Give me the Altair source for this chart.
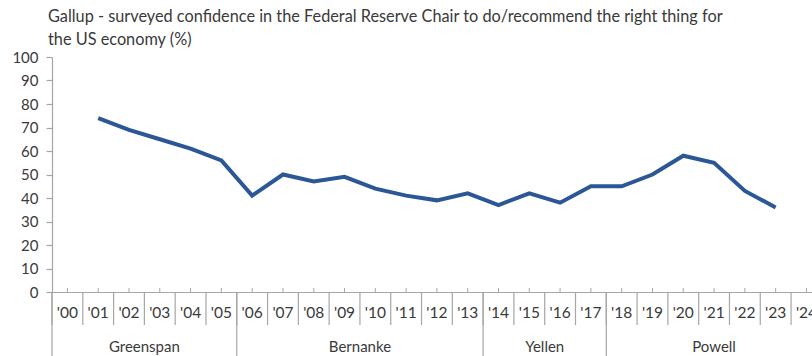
import altair as alt
import pandas as pd

year_labels = ["'00", "'01", "'02", "'03", "'04", "'05", "'06", "'07", "'08", "'09",
               "'10", "'11", "'12", "'13", "'14", "'15", "'16", "'17", "'18", "'19",
               "'20", "'21", "'22", "'23", "'24"]
confidence = [None, 74, 69, 65, 61, 56, 41, 50, 47, 49, 44, 41, 39, 42, 37, 42, 38,
              45, 45, 50, 58, 55, 43, 36, None]
chairs = ["Greenspan", "Bernanke", "Yellen", "Powell"]
chair_first_year = [0, 6, 14, 18]
chair_last_year = [5, 13, 17, 24]
title_lines = [
    "Gallup - surveyed confidence in the Federal Reserve Chair to do/recommend the right thing for",
    "the US economy (%)",
]

W, H = 760, 235
FONT = "Lato"
TXT = "#3a3a3a"
AX = "#a6a6a6"
LINE = "#2B5797"

idx = list(range(len(year_labels)))
df = pd.DataFrame({"i": idx, "label": year_labels, "v": confidence})
line_df = df.dropna()
div_df = pd.DataFrame({"b": [i - 0.5 for i in idx]})
chair_df = pd.DataFrame({
    "chair": chairs,
    "start": [s - 0.5 for s in chair_first_year],
    "mid": [(s + e) / 2 for s, e in zip(chair_first_year, chair_last_year)],
})
title_df = pd.DataFrame({"t": title_lines, "yy": [-35, -12]})

xs = alt.Scale(domain=[-0.5, 24.18], nice=False, zero=False)
ys = alt.Scale(domain=[0, 100], nice=False)

line = alt.Chart(line_df).mark_line(color=LINE, strokeWidth=4, strokeJoin="miter").encode(
    x=alt.X("i:Q", scale=xs,
            axis=alt.Axis(labels=False, ticks=False, grid=False, title=None,
                          domainColor=AX, domainWidth=1.2)),
    y=alt.Y("v:Q", scale=ys,
            axis=alt.Axis(values=list(range(0, 101, 10)), grid=False, title=None,
                          domainColor=AX, tickColor=AX, tickSize=6, labelPadding=8,
                          labelFont=FONT, labelFontSize=15, labelColor=TXT,
                          domainWidth=1.2, tickWidth=1.2)),
)

upticks = alt.Chart(df).mark_rule(color=AX, strokeWidth=1).encode(
    x=alt.X("i:Q", scale=xs), y=alt.value(H - 4), y2=alt.value(H)
)

dividers = alt.Chart(div_df).mark_rule(color=AX, strokeWidth=1.2).encode(
    x=alt.X("b:Q", scale=xs), y=alt.value(H), y2=alt.value(H + 33)
)

chair_div = alt.Chart(chair_df).mark_rule(color=AX, strokeWidth=1.2).encode(
    x=alt.X("start:Q", scale=xs), y=alt.value(H), y2=alt.value(H + 70)
)

year_text = alt.Chart(df).mark_text(font=FONT, fontSize=15.5, color=TXT, baseline="middle").encode(
    x=alt.X("i:Q", scale=xs), y=alt.value(H + 21), text="label:N"
)

chair_text = alt.Chart(chair_df).mark_text(font=FONT, fontSize=15, color=TXT, baseline="middle").encode(
    x=alt.X("mid:Q", scale=xs), y=alt.value(H + 55), text="chair:N"
)

title_text = alt.Chart(title_df).mark_text(font=FONT, fontSize=16.3, color=TXT, align="left",
                                           baseline="alphabetic").encode(
    x=alt.value(-4), y=alt.Y("yy:Q", scale=None), text="t:N"
)

chart = alt.layer(line, upticks, dividers, chair_div, year_text, chair_text, title_text).properties(
    width=W, height=H,
    autosize=alt.AutoSizeParams(type="none"),
    padding={"left": 52, "top": 57, "right": 0, "bottom": 64},
    background="white",
).configure_view(stroke=None)

chart.save("out.html", embed_options={"renderer": "svg", "actions": False})
